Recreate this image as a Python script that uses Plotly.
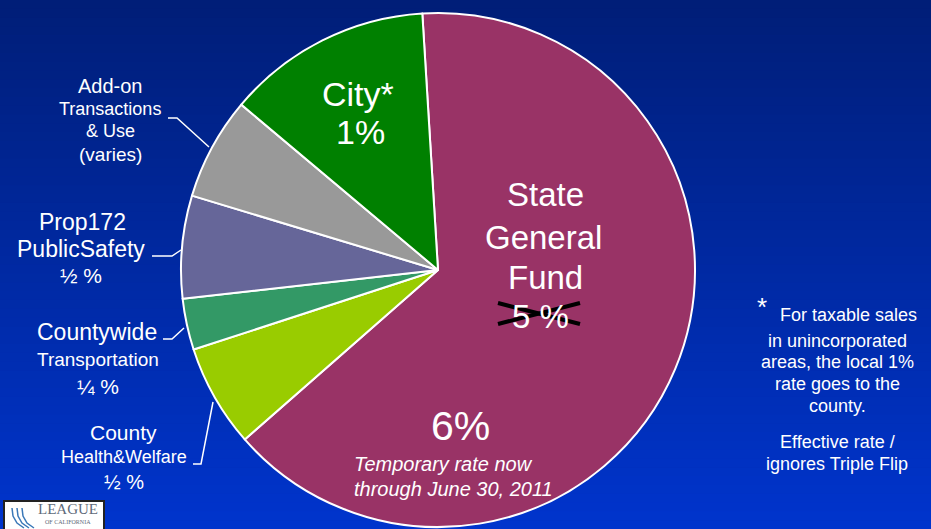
import plotly.graph_objects as go

W, H = 931, 529

# ---- data ----
slice_names = ["State General Fund", "County Health&Welfare", "Countywide Transportation",
               "Prop172 PublicSafety", "Add-on Transactions & Use", "City"]
slice_values = [5.0, 0.5, 0.25, 0.5, 0.5, 1.0]   # percent (state drawn at its former 5%)
slice_colors = ["#993366", "#99CC00", "#339966", "#666699", "#999999", "#008000"]

FONT = "Liberation Sans, Arial, sans-serif"


def px(x, y):
    return x / W, 1 - y / H


fig = go.Figure()

# pie geometry: centre (438, 270), radius 257 px
cx, cy, r = 438, 270, 257
fig.add_trace(go.Pie(
    labels=slice_names, values=slice_values, sort=False, direction="clockwise",
    rotation=-3.5, textinfo="none", hoverinfo="label+value",
    marker=dict(colors=slice_colors, line=dict(color="white", width=2)),
    domain=dict(x=[(cx - r) / W, (cx + r) / W], y=[1 - (cy + r) / H, 1 - (cy - r) / H]),
    showlegend=False,
))

shapes = []
# background gradient bands
top = (0, 30, 120)
bot = (0, 52, 204)
N = 60
for i in range(N):
    t = i / (N - 1)
    c = tuple(int(round(top[k] + (bot[k] - top[k]) * t)) for k in range(3))
    shapes.append(dict(type="rect", xref="paper", yref="paper", layer="below",
                       x0=0, x1=1, y0=1 - (i + 1) / N - 0.001, y1=1 - i / N,
                       line=dict(width=0), fillcolor="rgb(%d,%d,%d)" % c))


def polyline(pts, color="white", width=1.5):
    path = ""
    for j, (x, y) in enumerate(pts):
        X, Y = px(x, y)
        path += ("M" if j == 0 else "L") + " %.5f %.5f " % (X, Y)
    shapes.append(dict(type="path", xref="paper", yref="paper", path=path,
                       line=dict(color=color, width=width), layer="above"))


# leader lines
polyline([(168, 118), (177, 118), (209, 147)])
polyline([(152, 256), (172, 256), (181, 250)])
polyline([(163, 339), (172, 339), (184, 328)])
polyline([(193, 464), (201, 464), (213, 402)])

# strike-through X over "5 %"
polyline([(498, 303), (580, 324)], color="black", width=4)
polyline([(498, 324), (580, 303)], color="black", width=4)

# logo box
x0, y0 = px(4, 501)
x1, y1 = px(104, 531)
shapes.append(dict(type="rect", xref="paper", yref="paper", x0=x0, y0=y1, x1=x1, y1=y0,
                   fillcolor="white", line=dict(color="#222222", width=2), layer="above"))
for k, xo in enumerate([12, 17, 22]):
    polyline([(xo, 508), (xo + 1, 516), (xo + 5, 523), (xo + 12, 528)], color="#3a78b8", width=1.5)

annotations = []


def txt(s, x, y, size, italic=False, color="white", family=FONT, xanchor="center"):
    X, Y = px(x, y)
    if italic:
        s = "<i>" + s + "</i>"
    annotations.append(dict(text=s, x=X, y=Y, xref="paper", yref="paper", showarrow=False,
                            xanchor=xanchor, yanchor="middle",
                            font=dict(size=size, color=color, family=family)))


# in-slice text
txt("City*", 358, 94, 34)
txt("1%", 360, 132, 34)
txt("State", 545, 195, 33)
txt("General", 543, 237, 33)
txt("Fund", 545, 277, 33)
txt("5 %", 540, 316, 33)
txt("6%", 460, 426, 41)
txt("Temporary rate now", 443, 464, 20, italic=True)
txt("through June 30, 2011", 453, 489, 20, italic=True)

# outside labels
txt("Add-on", 110, 86, 20)
txt("Transactions", 110, 109, 18)
txt("& Use", 110, 131, 18)
txt("(varies)", 110, 154, 19)
txt("Prop172", 82, 222, 23)
txt("PublicSafety", 81, 249, 23)
txt("½ %", 81, 275, 21)
txt("Countywide", 97, 332, 23)
txt("Transportation", 98, 359, 19)
txt("¼ %", 98, 386, 21)
txt("County", 123, 432, 21)
txt("Health&Welfare", 124, 457, 18)
txt("½ %", 124, 482, 20)

# footnote
txt("*", 762, 307, 26)
txt("For taxable sales", 848, 315, 18)
txt("in unincorporated", 837, 341, 18)
txt("areas, the local 1%", 837, 362, 18)
txt("rate goes to the", 837, 384, 18)
txt("county.", 837, 406, 18)
txt("Effective rate /", 837, 442, 18)
txt("ignores Triple Flip", 837, 464, 18)

# logo text
txt("LEAGUE", 68, 509, 15, color="#5f6b7a", family="Liberation Serif, Times New Roman, serif")
txt("OF CALIFORNIA", 68, 522, 6, color="#5f6b7a", family="Liberation Serif, Times New Roman, serif")

fig.update_layout(
    width=W, height=H, margin=dict(l=0, r=0, t=0, b=0),
    paper_bgcolor="#0029A0", plot_bgcolor="rgba(0,0,0,0)",
    shapes=shapes, annotations=annotations,
)

fig.write_html("out.html", config={"displayModeBar": False},
               post_script="document.body.style.margin='0';document.body.style.overflow='hidden';")
